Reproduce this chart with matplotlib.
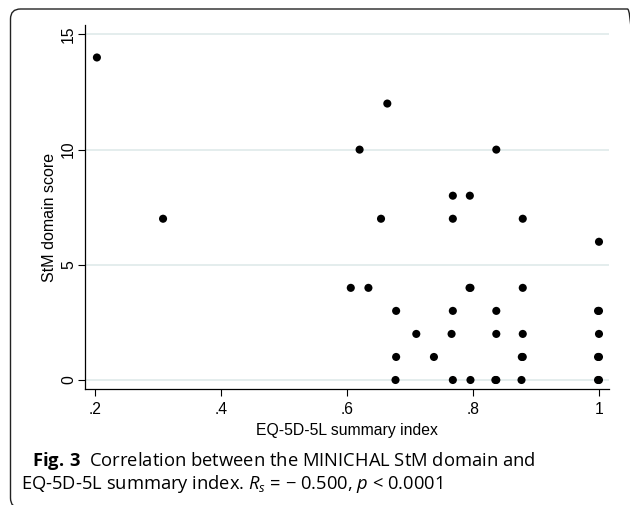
""" Scatter of StM domain score against EQ-5D-5L summary index """
import matplotlib
matplotlib.use('Agg')
from matplotlib import pyplot as plt
from matplotlib.patches import FancyBboxPatch


eq5d_index = [0.203, 0.308, 0.664, 0.620, 0.837, 0.768, 0.795, 0.654, 0.768, 0.879,
              1.000, 0.606, 0.634, 0.796, 0.7945, 0.879, 0.678, 0.768, 0.837, 1.000,
              0.9985, 0.710, 0.766, 0.837, 0.879, 1.000, 0.678, 0.738, 0.879, 0.8775,
              1.000, 0.9985, 0.677, 0.768, 0.796, 0.837, 0.8355, 0.877, 1.000, 0.9985]
stm_score = [14, 7, 12, 10, 10, 8, 8, 7, 7, 7,
             6, 4, 4, 4, 4, 4, 3, 3, 3, 3,
             3, 2, 2, 2, 2, 2, 1, 1, 1, 1,
             1, 1, 0, 0, 0, 0, 0, 0, 0, 0]
x_ticks = [0.2, 0.4, 0.6, 0.8, 1.0]
x_tick_labels = ['.2', '.4', '.6', '.8', '1']
y_ticks = [0, 5, 10, 15]

caption_1 = r'$\mathbf{Fig.\,3}$  Correlation between the MINICHAL StM domain and'
caption_2 = r'EQ-5D-5L summary index. $R_s$ = − 0.500, $p$ < 0.0001'

plt.rcParams['font.family'] = ['Liberation Sans', 'DejaVu Sans']
plt.rcParams['mathtext.fontset'] = 'custom'
plt.rcParams['mathtext.rm'] = 'Open Sans'
plt.rcParams['mathtext.it'] = 'Open Sans:italic'
plt.rcParams['mathtext.bf'] = 'Open Sans:bold'

fig = plt.figure(figsize=(6.3, 5.05), dpi=100)

# rounded frame around the whole figure (inches, so the corners stay round)
frame = FancyBboxPatch((0.105, -0.03), 6.27, 4.99,
                       boxstyle='round,pad=0,rounding_size=0.10',
                       transform=fig.dpi_scale_trans, fill=False,
                       edgecolor='#222222', linewidth=1.0, clip_on=False)
fig.patches.append(frame)

ax = fig.add_axes([85 / 630, 1 - 389.3 / 505, 524 / 630, 364.3 / 505])
ax.scatter(eq5d_index, stm_score, s=34, color='black', edgecolors='none', zorder=3)

ax.set_xlim(0.1841, 1.0159)
ax.set_ylim(-0.404, 15.41)
ax.set_xticks(x_ticks)
ax.set_xticklabels(x_tick_labels)
ax.set_yticks(y_ticks)
ax.set_yticklabels([str(v) for v in y_ticks], rotation=90, va='center')
ax.tick_params(labelsize=11.3, length=5, width=0.8)
ax.tick_params(axis='x', pad=4)
ax.tick_params(axis='y', pad=1.5)

for side in ('top', 'right'):
    ax.spines[side].set_visible(False)
for side in ('left', 'bottom'):
    ax.spines[side].set_linewidth(0.9)
ax.yaxis.grid(True, color='#e4eded', linewidth=1.4)
ax.set_axisbelow(True)

ax.set_xlabel('EQ-5D-5L summary index', fontsize=11.3, va='center')
ax.xaxis.set_label_coords(0.5, -0.112)
ax.set_ylabel('StM domain score', fontsize=11.5, va='center')
ax.yaxis.set_label_coords(-0.067, 0.473)

# caption, size chosen so the second line spans the same width as in the figure
t1 = fig.text(32 / 630, 1 - 461 / 505, caption_1, fontsize=12, family='Open Sans', va='center')
t2 = fig.text(21 / 630, 1 - 484 / 505, caption_2, fontsize=12, family='Open Sans', va='center')
renderer = fig.canvas.get_renderer()
width = t2.get_window_extent(renderer).width
size = 12 * 422 / width
t1.set_fontsize(size)
t2.set_fontsize(size)

plt.savefig('out.png', dpi=100)
